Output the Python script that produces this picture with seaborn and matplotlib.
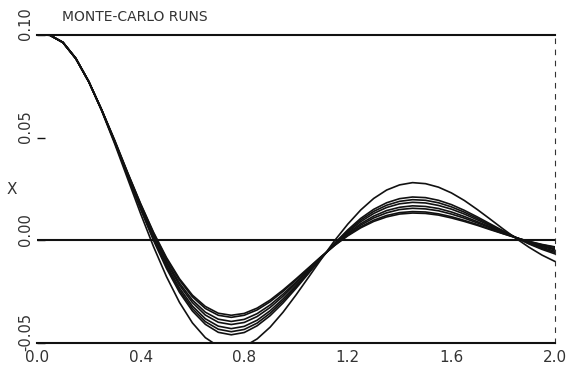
import numpy as np
import pandas as pd
import matplotlib
matplotlib.use("Agg")
import matplotlib.pyplot as plt
from matplotlib.transforms import ScaledTranslation
import seaborn as sns

# time axis
t = [0.00, 0.05, 0.10, 0.15, 0.20, 0.25, 0.30, 0.35, 0.40, 0.45,
     0.50, 0.55, 0.60, 0.65, 0.70, 0.75, 0.80, 0.85, 0.90, 0.95,
     1.00, 1.05, 1.10, 1.15, 1.20, 1.25, 1.30, 1.35, 1.40, 1.45,
     1.50, 1.55, 1.60, 1.65, 1.70, 1.75, 1.80, 1.85, 1.90, 1.95, 2.00]

# Monte-Carlo runs (X values)
run_1 = [0.1000, 0.0999, 0.0963, 0.0884, 0.0772, 0.0635, 0.0488, 0.0330, 0.0179, 0.0039,
         -0.0084, -0.0187, -0.0267, -0.0322, -0.0355, -0.0365, -0.0356, -0.0330, -0.0291, -0.0242,
         -0.0188, -0.0132, -0.0076, -0.0024, 0.0022, 0.0061, 0.0092, 0.0114, 0.0128, 0.0133,
         0.0131, 0.0123, 0.0109, 0.0092, 0.0073, 0.0052, 0.0032, 0.0012, -0.0005, -0.0020, -0.0032]
run_2 = [0.1000, 0.0999, 0.0964, 0.0885, 0.0772, 0.0635, 0.0484, 0.0328, 0.0176, 0.0035,
         -0.0090, -0.0194, -0.0275, -0.0332, -0.0365, -0.0375, -0.0365, -0.0339, -0.0299, -0.0249,
         -0.0193, -0.0135, -0.0077, -0.0023, 0.0025, 0.0066, 0.0098, 0.0121, 0.0135, 0.0140,
         0.0138, 0.0129, 0.0115, 0.0097, 0.0077, 0.0055, 0.0033, 0.0013, -0.0006, -0.0022, -0.0034]
run_3 = [0.1000, 0.0999, 0.0964, 0.0885, 0.0772, 0.0634, 0.0482, 0.0325, 0.0171, 0.0027,
         -0.0101, -0.0208, -0.0291, -0.0350, -0.0384, -0.0395, -0.0385, -0.0357, -0.0315, -0.0262,
         -0.0203, -0.0141, -0.0079, -0.0021, 0.0030, 0.0074, 0.0109, 0.0134, 0.0150, 0.0156,
         0.0153, 0.0144, 0.0128, 0.0108, 0.0085, 0.0061, 0.0036, 0.0013, -0.0008, -0.0026, -0.0041]
run_4 = [0.1000, 0.0999, 0.0964, 0.0885, 0.0772, 0.0634, 0.0481, 0.0322, 0.0166, 0.0021,
         -0.0109, -0.0218, -0.0303, -0.0364, -0.0399, -0.0410, -0.0400, -0.0371, -0.0327, -0.0272,
         -0.0210, -0.0145, -0.0081, -0.0020, 0.0035, 0.0081, 0.0118, 0.0145, 0.0161, 0.0168,
         0.0165, 0.0155, 0.0138, 0.0116, 0.0091, 0.0065, 0.0038, 0.0013, -0.0010, -0.0030, -0.0046]
run_5 = [0.1000, 0.0999, 0.0964, 0.0885, 0.0773, 0.0634, 0.0480, 0.0319, 0.0161, 0.0012,
         -0.0120, -0.0232, -0.0320, -0.0382, -0.0418, -0.0430, -0.0419, -0.0389, -0.0343, -0.0285,
         -0.0220, -0.0151, -0.0082, -0.0017, 0.0041, 0.0091, 0.0131, 0.0160, 0.0178, 0.0185,
         0.0182, 0.0170, 0.0152, 0.0128, 0.0100, 0.0071, 0.0041, 0.0013, -0.0013, -0.0035, -0.0053]
run_6 = [0.1000, 0.0999, 0.0964, 0.0886, 0.0773, 0.0633, 0.0478, 0.0316, 0.0156, 0.0006,
         -0.0129, -0.0243, -0.0332, -0.0396, -0.0433, -0.0445, -0.0434, -0.0403, -0.0355, -0.0295,
         -0.0227, -0.0155, -0.0083, -0.0015, 0.0046, 0.0099, 0.0141, 0.0171, 0.0190, 0.0198,
         0.0195, 0.0183, 0.0163, 0.0137, 0.0107, 0.0075, 0.0043, 0.0013, -0.0015, -0.0040, -0.0059]
run_7 = [0.1000, 0.0999, 0.0964, 0.0886, 0.0773, 0.0633, 0.0477, 0.0313, 0.0152, -0.0001,
         -0.0137, -0.0253, -0.0344, -0.0409, -0.0448, -0.0460, -0.0449, -0.0416, -0.0367, -0.0305,
         -0.0234, -0.0159, -0.0084, -0.0013, 0.0051, 0.0107, 0.0151, 0.0183, 0.0203, 0.0211,
         0.0208, 0.0195, 0.0174, 0.0146, 0.0114, 0.0080, 0.0046, 0.0013, -0.0018, -0.0044, -0.0066]
run_8 = [0.1000, 0.0999, 0.0965, 0.0887, 0.0772, 0.0630, 0.0470, 0.0300, 0.0130, -0.0031,
         -0.0177, -0.0302, -0.0402, -0.0474, -0.0516, -0.0530, -0.0517, -0.0480, -0.0423, -0.0350,
         -0.0266, -0.0177, -0.0087, 0.0000, 0.0079, 0.0148, 0.0204, 0.0245, 0.0270, 0.0281,
         0.0276, 0.0259, 0.0231, 0.0194, 0.0150, 0.0103, 0.0055, 0.0009, -0.0034, -0.0072, -0.0103]

runs = [run_1, run_2, run_3, run_4, run_5, run_6, run_7, run_8]

x_ticks = [0.0, 0.4, 0.8, 1.2, 1.6, 2.0]
x_tick_labels = ["0.0", "0.4", "0.8", "1.2", "1.6", "2.0"]
y_ticks = [-0.05, 0.00, 0.05, 0.10]
y_tick_labels = ["-0.05", "0.00", "0.05", "0.10"]

df = pd.DataFrame({
    "t": np.tile(t, len(runs)),
    "X": np.concatenate(runs),
    "run": np.repeat(np.arange(1, len(runs) + 1), len(t)),
})

sns.set_style("white")
plt.rcParams["font.family"] = ["DejaVu Sans"]

fig = plt.figure(figsize=(5.76, 3.69), dpi=100)
ax = fig.add_axes([37 / 576, 26 / 369, 518 / 576, 308 / 369])

sns.lineplot(data=df, x="t", y="X", units="run", estimator=None,
             color="#111111", linewidth=1.2, legend=False, ax=ax)

ax.axhline(0.0, color="#111111", linewidth=1.5, zorder=1)
ax.set_xlim(0, 2.0)
ax.set_ylim(-0.05, 0.10)

for side in ["top", "bottom"]:
    ax.spines[side].set_color("#111111")
    ax.spines[side].set_linewidth(1.5)
ax.spines["left"].set_visible(False)
ax.spines["right"].set_color("#333333")
ax.spines["right"].set_linewidth(0.8)
ax.spines["right"].set_linestyle((0, (4, 6)))

ax.set_xticks(x_ticks, labels=x_tick_labels)
ax.set_yticks(y_ticks, labels=y_tick_labels)
ax.tick_params(axis="x", length=0, pad=5, labelsize=11, labelcolor="#333333")
ax.tick_params(axis="y", direction="in", length=6, width=1, color="#111111",
               pad=3, labelsize=10.5, labelcolor="#333333", left=True)
offset = ScaledTranslation(0, 0.11, fig.dpi_scale_trans)
for lab in ax.get_yticklabels():
    lab.set_rotation(90)
    lab.set_va("center")
    lab.set_transform(lab.get_transform() + offset)

ax.set_xlabel("")
ax.set_ylabel("X", rotation=0, fontsize=11, color="#333333")
ax.yaxis.label.set_ha("center")
ax.yaxis.label.set_va("center")
ax.yaxis.set_label_coords(-25 / 518, 0.5)

fig.text(62 / 576, 1 - 17 / 369, "MONTE-CARLO RUNS", fontsize=10,
         ha="left", va="center", color="#333333")

fig.savefig("out.png", dpi=100, facecolor="white")
